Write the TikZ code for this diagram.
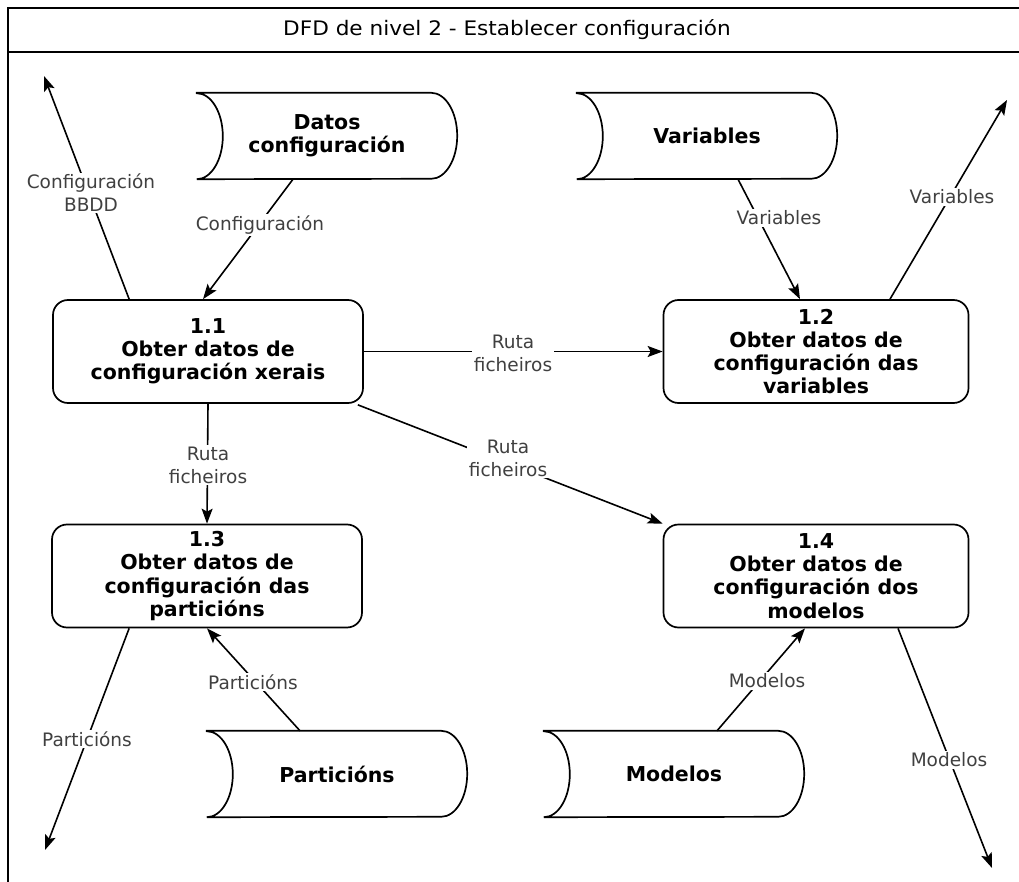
\documentclass[tikz,border=0pt]{standalone}
\usepackage{fontspec}
\setmainfont{DejaVu Sans}
\newfontfamily\dfdtitlefamily[FakeStretch=1.08]{DejaVu Sans}
\usetikzlibrary{arrows.meta,calc}
\newcommand\dfdproc{\fontsize{20.5}{23.2}\selectfont\bfseries}
\newcommand\dfdlbl{\fontsize{18.5}{23}\selectfont}
\newcommand\dfdtitle{\dfdtitlefamily\fontsize{20}{24}\selectfont}
% data store outline: straight top and bottom, convex right side, concave left side
\newcommand\dfdstore[1]{%
  \draw[line width=1.7pt] (#1.north west) -- ([xshift=-26pt]#1.north east)
    arc[start angle=90,end angle=-90,x radius=26pt,y radius=43pt]
    -- (#1.south west)
    arc[start angle=-90,end angle=90,x radius=26pt,y radius=43pt] -- cycle;}
\begin{document}
\begin{tikzpicture}[x=1pt,y=1pt,
  proc/.style={draw, line width=1.7pt, rounded corners=15pt, minimum width=310pt,
    minimum height=103pt, align=center, inner sep=0pt, font=\dfdproc},
  procr/.style={proc, minimum width=305pt},
  store/.style={minimum width=260pt, minimum height=86pt, inner sep=0pt,
    align=center, font=\dfdproc},
  flow/.style={line width=1.6pt, -{Stealth[length=15pt,width=11pt,inset=3pt]}},
  lbl/.style={fill=white, align=center, inner sep=1.5pt, font=\dfdlbl, text=black!75}]
\useasboundingbox (0,0) rectangle (1019,-882);
\begin{scope}
\clip (0,0) rectangle (1019,-882);
% frame with title bar
\draw[line width=1.8pt] (8,-8) rectangle (1040,-900);
\draw[line width=1.8pt] (8,-52) -- (1040,-52);
\node[font=\dfdtitle] (title) at (507,-30) {DFD de nivel 2 - Establecer configuración};

% processes
\node[proc]  (p11) at (208,-351.5) {1.1\\Obter datos de\\configuración xerais};
\node[procr] (p12) at (816,-351.5) {1.2\\Obter datos de\\configuración das\\variables};
\node[proc]  (p13) at (207,-576) {1.3\\Obter datos de\\configuración das\\particións};
\node[procr] (p14) at (816,-576) {1.4\\Obter datos de\\configuración dos\\modelos};

% data stores
\node[store] (dc)   at (327,-136) {Datos\\configuración};
\node[store] (var)  at (707,-136) {Variables};
\node[store] (part) at (337,-774) {Particións};
\node[store] (mod)  at (674,-774) {Modelos};
\dfdstore{dc}
\dfdstore{var}
\dfdstore{part}
\dfdstore{mod}

% free ends of outgoing flows
\coordinate (outbbdd) at (44,-76);
\coordinate (outvar)  at (1007,-100);
\coordinate (outpart) at (45,-850);
\coordinate (outmod)  at (992,-868);

% flows
\draw[flow] ($(p11.north west)+(77,0)$) -- (outbbdd);
\draw[flow] ($(dc.south)+(-34,0)$) -- ($(p11.north)+(-5,0)$);
\draw[flow] ($(var.south)+(31,0)$) -- ($(p12.north)+(-16,0)$);
\draw[flow] ($(p12.north)+(74,0)$) -- (outvar);
\draw[flow] (p11.east) -- (p12.west);
\draw[flow] (p11.south) -- (p13.north);
\draw[flow] ($(p11.south east)+(-6,-1)$) -- (p14.north west);
\draw[flow] ($(part.north)+(-37,0)$) -- (p13.south);
\draw[flow] ($(p13.south west)+(78,0)$) -- (outpart);
\draw[flow] ($(mod.north)+(43,0)$) -- ($(p14.south)+(-11,0)$);
\draw[flow] ($(p14.south)+(82,0)$) -- (outmod);

% flow labels
\node[lbl] (l1)  at (91,-193)  {Configuración\\BBDD};
\node[lbl] (l2)  at (260,-225) {Configuración};
\node[lbl] (l3)  at (779,-218) {Variables};
\node[lbl] (l4)  at (952,-197) {Variables};
\node[lbl] (l5)  at (513,-353) {Ruta\\ficheiros};
\node[lbl] (l6)  at (208,-465) {Ruta\\ficheiros};
\node[lbl] (l7)  at (508,-458) {Ruta\\ficheiros};
\node[lbl] (l8)  at (253,-682) {Particións};
\node[lbl] (l9)  at (87,-739)  {Particións};
\node[lbl] (l10) at (767,-681) {Modelos};
\node[lbl] (l11) at (949,-760) {Modelos};
\end{scope}
\end{tikzpicture}
\end{document}
